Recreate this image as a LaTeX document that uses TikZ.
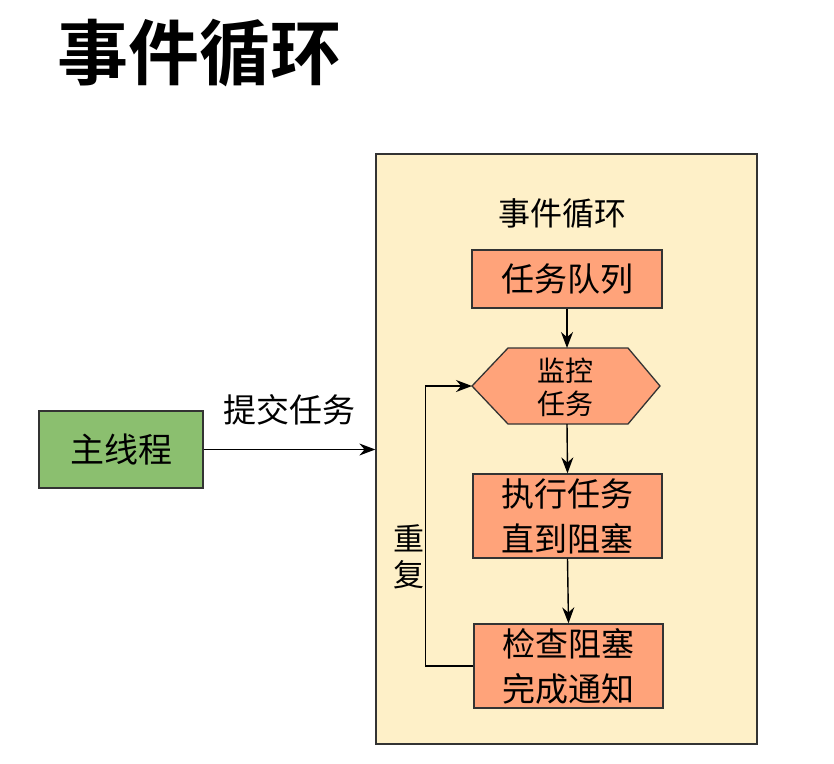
\documentclass[tikz,border=0pt]{standalone}
\usepackage{fontspec}
\setmainfont{Noto Sans CJK SC}
\newfontfamily\cjkbold{Noto Sans CJK SC Bold}
\usetikzlibrary{arrows.meta}
\definecolor{loopbg}{HTML}{FEF0C8}
\definecolor{salmonf}{HTML}{FFA37A}
\definecolor{greenf}{HTML}{8BBF6F}
\definecolor{edge}{HTML}{333333}
\tikzset{
  stepbox/.style={draw=edge, line width=1.3pt, fill=salmonf, font=\fontsize{33}{45}\selectfont, align=center, inner sep=0pt},
  conn/.style={draw=black, line width=1.4pt, -{Stealth[length=16pt,width=12pt]}},
  lbl/.style={font=\fontsize{33}{40}\selectfont, align=center, inner sep=0pt}
}
\begin{document}
\begin{tikzpicture}[x=1pt,y=-1pt]
\useasboundingbox (0,0) rectangle (834,763);
% title
\node[font=\cjkbold\fontsize{71}{80}\selectfont, inner sep=0pt] (title) at (199,53) {事件循环};
% big loop box
\node[draw=edge, line width=1.3pt, fill=loopbg, minimum width=381pt, minimum height=590pt, inner sep=0pt] (loop) at (566.5,449) {};
\node[lbl, font=\fontsize{32}{40}\selectfont] (looptitle) at (562,213) {事件循环};
% steps
\node[stepbox, minimum width=190pt, minimum height=58pt] (queue) at (567,279) {任务队列};
\draw[draw=edge, line width=1.3pt, fill=salmonf] (472,386) coordinate (hexL) -- (508,348) -- (628,348) -- (660,386) -- (628,424) -- (508,424) -- cycle;
\node[lbl, font=\fontsize{28}{33}\selectfont] (monitor) at (565,387) {监控\\任务};
\coordinate (hexT) at (567,348);
\coordinate (hexB) at (567,424);
\node[stepbox, minimum width=189pt, minimum height=84pt] (exec) at (567.5,516) {执行任务\\直到阻塞};
\node[stepbox, minimum width=189pt, minimum height=84pt] (check) at (568.5,666) {检查阻塞\\完成通知};
% main thread
\node[draw=edge, line width=1.3pt, fill=greenf, minimum width=164pt, minimum height=77pt, font=\fontsize{34}{40}\selectfont, inner sep=0pt] (main) at (121,449.5) {主线程};
\node[lbl] (submit) at (289,410) {提交任务};
% connectors
\draw[conn] (queue.south) -- (hexT);
\draw[conn] (hexB) -- (exec.north);
\draw[conn] (exec.south) -- (check.north);
\draw[conn] (main.east) -- (main.east -| loop.west);
\draw[conn] (check.west) -- ++(-48,0) |- (hexL);
\node[lbl, font=\fontsize{31}{36}\selectfont] (repeat) at (409,557) {重\\复};
\end{tikzpicture}
\end{document}
